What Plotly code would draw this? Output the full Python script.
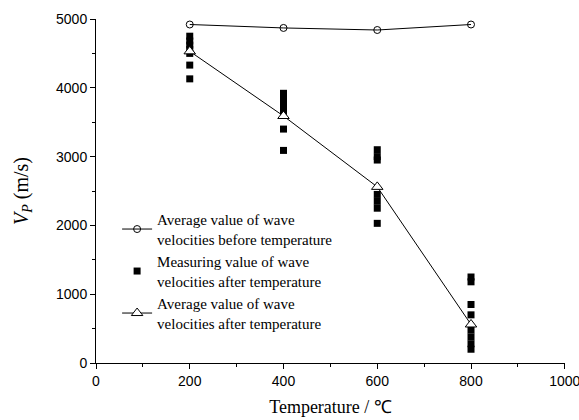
import plotly.graph_objects as go

temps = [200, 400, 600, 800]
avg_before = [4920, 4870, 4840, 4920]
avg_after = [4530, 3590, 2560, 560]

meas_200 = [4750, 4680, 4620, 4560, 4500, 4330, 4130]
meas_400 = [3920, 3830, 3760, 3680, 3600, 3400, 3090]
meas_600 = [3100, 3000, 2950, 2450, 2350, 2250, 2030]
meas_800 = [1250, 1180, 850, 700, 480, 380, 280, 200]

mx, my = [], []
for t, vals in zip(temps, [meas_200, meas_400, meas_600, meas_800]):
    mx += [t] * len(vals)
    my += vals

fig = go.Figure()
fig.add_trace(go.Scatter(
    x=temps, y=avg_before, mode="lines+markers",
    name="Average value of wave<br>velocities before temperature",
    line=dict(color="black", width=1),
    marker=dict(symbol="circle-open", size=7, color="black", line=dict(width=1)),
    cliponaxis=False))
fig.add_trace(go.Scatter(
    x=mx, y=my, mode="markers",
    name="Measuring value of wave<br>velocities after temperature",
    marker=dict(symbol="square", size=7, color="black"),
    cliponaxis=False))
fig.add_trace(go.Scatter(
    x=temps, y=avg_after, mode="lines+markers",
    name="Average value of wave<br>velocities after temperature",
    line=dict(color="black", width=1),
    marker=dict(symbol="triangle-up", size=10, color="white", line=dict(width=1, color="black")),
    cliponaxis=False))

fig.update_layout(
    width=579, height=420,
    margin=dict(l=96, r=14, t=19, b=57),
    paper_bgcolor="white", plot_bgcolor="white",
    showlegend=True,
    legend=dict(x=0.045, y=0.465, xanchor="left", yanchor="top",
                bgcolor="rgba(0,0,0,0)",
                font=dict(family="Liberation Serif", size=15, color="black"),
                tracegroupgap=0),
    xaxis=dict(range=[0, 1000.5], tickvals=[0, 200, 400, 600, 800, 1000],
               automargin=False,
               showgrid=False, zeroline=False, showline=True, linecolor="black", linewidth=1,
               ticks="outside", ticklen=5, tickcolor="black", ticklabeloverflow="allow",
               minor=dict(ticks="outside", ticklen=3, dtick=100, tickcolor="black"),
               tickfont=dict(family="Liberation Sans", size=14, color="black"),
               title=dict(text="Temperature / ℃", standoff=12,
                          font=dict(family="Liberation Serif", size=18, color="black"))),
    yaxis=dict(range=[0, 5000], tickvals=[0, 1000, 2000, 3000, 4000, 5000],
               automargin=False,
               showgrid=False, zeroline=False, showline=True, linecolor="black", linewidth=1,
               ticks="outside", ticklen=5, tickcolor="black",
               minor=dict(ticks="outside", ticklen=3, dtick=500, tickcolor="black"),
               tickfont=dict(family="Liberation Sans", size=14, color="black"),
               title=dict(text="<i>V</i><sub><i>P</i></sub> (m/s)", standoff=22,
                          font=dict(family="Liberation Serif", size=20, color="black"))),
)

fig.write_html("out.html")
